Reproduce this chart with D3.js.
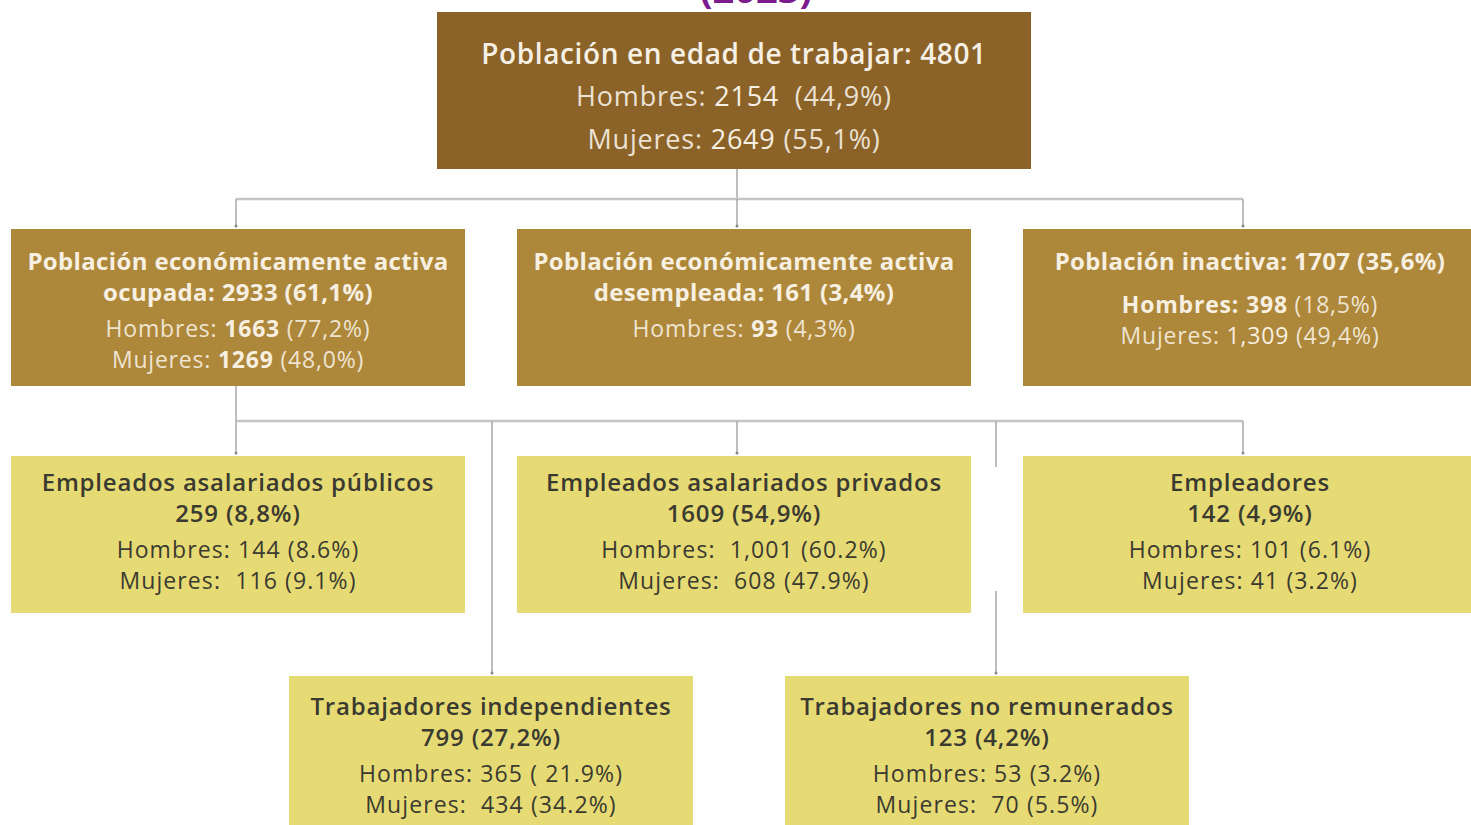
<!DOCTYPE html>
<html>
<head>
<meta charset="utf-8">
<script src="https://cdn.jsdelivr.net/npm/d3@7"></script>
<style>
  body { margin: 0; background: #fff; overflow: hidden; }
  svg { display: block; font-family: "Open Sans", sans-serif; }
</style>
</head>
<body>
<div id="chart"></div>
<script>
// tree structure: id, parent, level (row), slot (column)
var ids     = ["pet", "ocup", "desemp", "inact", "pub", "priv", "empl", "indep", "norem"];
var parents = [null, "pet", "pet", "pet", "ocup", "ocup", "ocup", "ocup", "ocup"];
var levels  = [0, 1, 1, 1, 2, 2, 2, 3, 3];
var slots   = [1, 0, 1, 2, 0, 1, 2, 0.5, 1.5];

// texts of each box
var titles = [
  ["Población en edad de trabajar: 4801"],
  ["Población económicamente activa", "ocupada: 2933 (61,1%)"],
  ["Población económicamente activa", "desempleada: 161 (3,4%)"],
  ["Población inactiva: 1707 (35,6%)"],
  ["Empleados asalariados públicos", "259 (8,8%)"],
  ["Empleados asalariados privados", "1609  (54,9%)"],
  ["Empleadores", "142 (4,9%)"],
  ["Trabajadores independientes", "799 (27,2%)"],
  ["Trabajadores no remunerados", "123 (4,2%)"]
];
var hombresN   = ["2154", "1663", "93", "398", "144", " 1,001", "101", "365", "53"];
var hombresPct = [" (44,9%)", "(77,2%)", "(4,3%)", "(18,5%)", "(8.6%)", "(60.2%)", "(6.1%)", "( 21.9%)", "(3.2%)"];
var mujeresN   = ["2649", "1269", null, "1,309", " 116", " 608", "41", " 434", " 70"];
var mujeresPct = ["(55,1%)", "(48,0%)", null, "(49,4%)", "(9.1%)", "(47.9%)", "(3.2%)", "(34.2%)", "(5.5%)"];

var nodes = ids.map(function(id, i) {
  return { id: id, parent: parents[i], level: levels[i], slot: slots[i],
    title: titles[i], hN: hombresN[i], hP: hombresPct[i], mN: mujeresN[i], mP: mujeresPct[i] };
});
var root = d3.stratify().id(function(d) { return d.id; }).parentId(function(d) { return d.parent; })(nodes);

var w = 1471, h = 825;
var boxH = 157;

// connector columns and box columns
var x  = d3.scaleLinear().domain([0, 0.5, 1, 1.5, 2]).range([236, 492, 737, 996, 1243]);
var xb = d3.scaleLinear().domain([0, 2]).range([238, 1250]);
var y  = d3.scaleLinear().domain([0, 1, 2, 3]).range([12, 229, 456, 676]);

var fills = ["#8b6228", "#ad873a", "#e6da74", "#e6da74"];
var inks  = ["#f6f0e4", "#f7efe0", "#3b3a30", "#3b3a30"];
var widths = [594, 454, 454, 404];
var firstLine = [41, 31, 25, 29];

// font settings per level: [size, letter-spacing]
var titleFont = [[28, 0.6], [24, 0.35], [24, 0.8], [24, 0.8]];
var bodyFont  = [[27, 0.8], [23, 0.8], [23, 1.1], [23, 1.1]];

var svg = d3.select("#chart").append("svg")
  .attr("width", w).attr("height", h);

// partial title at the top edge
svg.append("text")
  .attr("x", 756).attr("y", 3)
  .attr("text-anchor", "middle")
  .attr("fill", "#7a1a8c")
  .attr("font-size", 38).attr("font-weight", 700)
  .text("(2023)");

// connectors
var links = svg.append("g")
  .attr("stroke", "#a9a9a9").attr("fill", "none");

root.each(function(n) {
  if (!n.children) return;
  var d = n.data;
  var bottom = y(d.level) + boxH;
  var busY = Math.round((bottom + y(d.level + 1)) / 2);
  var xs = n.children.map(function(c) { return x(c.data.slot); });
  links.append("line")
    .attr("x1", x(d.slot)).attr("x2", x(d.slot))
    .attr("y1", bottom).attr("y2", busY).attr("stroke-width", 1.5);
  links.append("line")
    .attr("x1", d3.min(xs)).attr("x2", d3.max(xs))
    .attr("y1", busY).attr("y2", busY).attr("stroke-width", 2.5)
    .attr("stroke", "#c4c4c4");
  n.children.forEach(function(c) {
    var cx = x(c.data.slot);
    var end = y(c.data.level) - 3;
    if (c.data.id === "norem") {
      // this drop is broken in the original where it passes between boxes
      links.append("line").attr("x1", cx).attr("x2", cx)
        .attr("y1", busY).attr("y2", busY + 46).attr("stroke-width", 1.5);
      links.append("line").attr("x1", cx).attr("x2", cx)
        .attr("y1", busY + 170).attr("y2", end).attr("stroke-width", 1.5);
    } else {
      links.append("line").attr("x1", cx).attr("x2", cx)
        .attr("y1", busY).attr("y2", end).attr("stroke-width", 1.5);
    }
    links.append("circle").attr("cx", cx).attr("cy", end).attr("r", 1.5)
      .attr("fill", "#888").attr("stroke", "none");
  });
});

function boxCenter(d) {
  var c = xb(d.slot);
  if (d.level === 0 || d.id === "norem") c -= 10;
  return c;
}

// boxes
var box = svg.selectAll(".node")
  .data(root.descendants())
  .enter().append("g")
  .attr("class", "node")
  .attr("transform", function(n) {
    var d = n.data;
    return "translate(" + (boxCenter(d) - widths[d.level] / 2) + "," + y(d.level) + ")";
  });

box.append("rect")
  .attr("width", function(n) { return widths[n.data.level]; })
  .attr("height", boxH)
  .attr("fill", function(n) { return fills[n.data.level]; });

box.each(function(n) {
  var d = n.data;
  var g = d3.select(this);
  var bw = widths[d.level];
  var ink = inks[d.level];
  var dark = d.level >= 2;
  var ty = firstLine[d.level];

  d.title.forEach(function(t, i) {
    g.append("text")
      .attr("x", bw / 2).attr("y", ty + i * 31)
      .attr("text-anchor", "middle").attr("dominant-baseline", "central")
      .attr("fill", ink)
      .attr("font-size", titleFont[d.level][0])
      .attr("letter-spacing", titleFont[d.level][1])
      .attr("font-weight", d.level === 1 ? 700 : 600)
      .text(t);
  });

  var gap = d.level === 0 ? 42 : d.title.length === 1 ? 44 : 37;
  var hy = ty + (d.title.length - 1) * 31 + gap;
  var lineGap = d.level === 0 ? 43 : 31;

  var rows = [["Hombres: ", d.hN, d.hP, hy]];
  if (d.mN) rows.push(["Mujeres: ", d.mN, d.mP, hy + lineGap]);

  rows.forEach(function(r, i) {
    var txt = g.append("text")
      .attr("x", bw / 2).attr("y", r[3])
      .attr("text-anchor", "middle").attr("dominant-baseline", "central")
      .attr("fill", ink)
      .attr("font-size", bodyFont[d.level][0])
      .attr("letter-spacing", bodyFont[d.level][1])
      .attr("xml:space", "preserve");
    var boldLabel = d.id === "inact" && i === 0;
    var boldNum = d.level === 1 && !(d.id === "inact" && i === 1);
    txt.append("tspan").attr("font-weight", boldLabel ? 700 : 400)
      .attr("opacity", boldLabel || dark ? 1 : 0.9).text(r[0]);
    txt.append("tspan").attr("font-weight", boldNum ? 700 : 400).text(r[1]);
    txt.append("tspan").attr("font-weight", 400)
      .attr("opacity", dark ? 1 : 0.9).text(" " + r[2]);
  });
});
</script>
</body>
</html>
